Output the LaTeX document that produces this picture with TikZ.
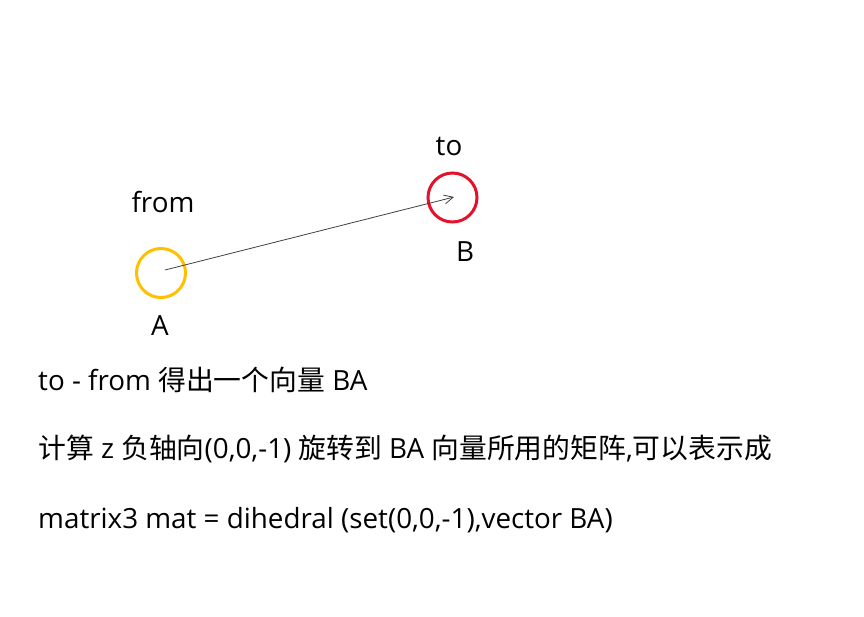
\documentclass[tikz,border=0pt]{standalone}
\usepackage{fontspec}
\setmainfont{Open Sans}
\newfontfamily\cjk{Noto Sans CJK SC}
\usetikzlibrary{arrows.meta}
\definecolor{cyellow}{RGB}{255,192,0}
\definecolor{cred}{RGB}{228,18,42}
\definecolor{carrow}{RGB}{64,64,64}
\tikzset{
  ring/.style={circle, draw, line width=3pt, minimum size=49pt, inner sep=0pt},
  lbl/.style={font=\fontsize{27.8}{32}\selectfont, inner sep=0pt},
  txt/.style={font=\fontsize{27.8}{32}\selectfont, inner sep=0pt, anchor=west},
  vec/.style={draw=carrow, line width=0.8pt, -{Straight Barb[length=9pt,width=9pt]}}
}
\begin{document}
\begin{tikzpicture}[x=1pt,y=-1pt]
\useasboundingbox (0,0) rectangle (864,616);
\node[ring, draw=cyellow] (A) at (161,273) {};
\node[ring, draw=cred] (B) at (452.5,197.5) {};
\coordinate (As) at (165,270);
\coordinate (Be) at (454,197);
\draw[vec] (As) -- (Be);
\node[lbl] (from) at (163,202) {from};
\node[lbl] (to) at (449,146) {to};
\node[lbl] (Bl) at (465,252) {B};
\node[lbl] (Al) at (160,326) {A};
\node[txt] (l1) at (38,380) {to - from {\cjk 得出一个向量} BA};
\node[txt] (l2) at (38,449) {{\cjk 计算} z {\cjk 负轴向}(0,0,-1) {\cjk 旋转到} BA {\cjk 向量所用的矩阵},{\cjk 可以表示成}};
\node[txt] (l3) at (38,520) {matrix3 mat = dihedral (set(0,0,-1),vector BA)};
\end{tikzpicture}
\end{document}
